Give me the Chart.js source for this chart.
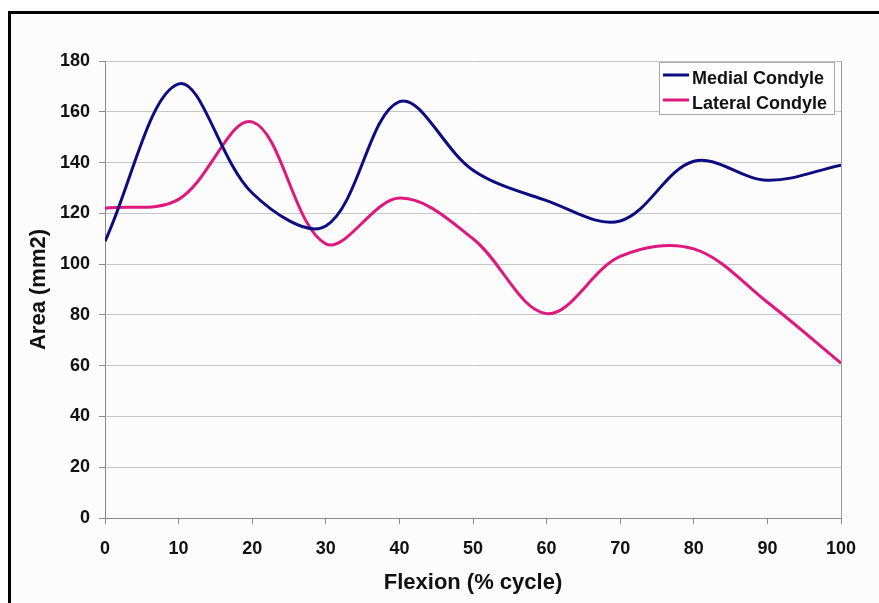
<!DOCTYPE html>
<html>
<head>
<meta charset="utf-8">
<script src="https://cdn.jsdelivr.net/npm/chart.js@4.4.1/dist/chart.umd.min.js"></script>
<style>
  html, body { margin: 0; padding: 0; background: #fff; overflow: hidden; }
  #frame {
    position: absolute; left: 8px; top: 11px; width: 900px; height: 640px;
    border: 3px solid #000; background: #fcfcfc;
  }
  #chart { position: absolute; left: 0; top: 0; }
</style>
</head>
<body>
<div id="frame"></div>
<canvas id="chart" width="879" height="603"></canvas>
<script>
// values
const flexion = [0, 10, 20, 30, 40, 50, 60, 70, 80, 90, 100];
const medialCondyle = [109, 171, 128, 115, 164, 137, 125, 117, 140.5, 133, 139];
const lateralCondyle = [122, 125.5, 156, 108, 126, 110, 80.5, 103, 106, 85, 61];
const xTickValues = [0, 10, 20, 30, 40, 50, 60, 70, 80, 90, 100];
const yTickValues = [0, 20, 40, 60, 80, 100, 120, 140, 160, 180];

const FONT = '"Liberation Sans", Arial, sans-serif';

const toPoints = (ys) => flexion.map((x, i) => ({ x: x, y: ys[i] }));

// grey border on the right of the plot area
const plotFrame = {
  id: 'plotFrame',
  beforeDatasetsDraw(chart) {
    const { ctx, chartArea } = chart;
    ctx.save();
    ctx.strokeStyle = '#9a9a9a';
    ctx.lineWidth = 1;
    ctx.beginPath();
    ctx.moveTo(chartArea.right + 0.5, chartArea.top);
    ctx.lineTo(chartArea.right + 0.5, chartArea.bottom);
    ctx.stroke();
    ctx.restore();
  }
};

// Excel style boxed legend in the top right corner of the plot
const boxLegend = {
  id: 'boxLegend',
  afterDraw(chart) {
    const { ctx, chartArea } = chart;
    const left = chartArea.right - 182;
    const top = chartArea.top + 1;
    ctx.save();
    ctx.fillStyle = '#fdfdfd';
    ctx.fillRect(left, top, 175, 52);
    ctx.strokeStyle = '#a8a8a8';
    ctx.lineWidth = 1;
    ctx.strokeRect(left + 0.5, top + 0.5, 175, 52);
    ctx.font = 'bold 18px ' + FONT;
    ctx.textBaseline = 'middle';
    ctx.textAlign = 'left';
    chart.data.datasets.forEach((ds, i) => {
      const ly = top + 13 + i * 25;
      ctx.strokeStyle = ds.borderColor;
      ctx.lineWidth = 3;
      ctx.beginPath();
      ctx.moveTo(left + 4, ly);
      ctx.lineTo(left + 30, ly);
      ctx.stroke();
      ctx.fillStyle = '#111';
      ctx.fillText(ds.label, left + 33, ly + 4);
    });
    ctx.restore();
  }
};

new Chart(document.getElementById('chart'), {
  type: 'line',
  data: {
    datasets: [
      {
        label: 'Medial Condyle',
        data: toPoints(medialCondyle),
        borderColor: '#0c0c80',
        borderWidth: 3,
        pointRadius: 0,
        tension: 0.35,
        fill: false
      },
      {
        label: 'Lateral Condyle',
        data: toPoints(lateralCondyle),
        borderColor: '#df187d',
        borderWidth: 3,
        pointRadius: 0,
        tension: 0.35,
        fill: false
      }
    ]
  },
  options: {
    responsive: false,
    animation: false,
    devicePixelRatio: 1,
    layout: { padding: { top: 61, right: 38, left: 0, bottom: 0 } },
    plugins: {
      legend: { display: false },
      tooltip: { enabled: false }
    },
    scales: {
      x: {
        type: 'linear',
        min: 0,
        max: 100,
        afterFit: (s) => { s.height = 85; },
        afterBuildTicks: (s) => { s.ticks = xTickValues.map(v => ({ value: v })); },
        grid: { drawOnChartArea: false, drawTicks: true, tickLength: 6, tickColor: '#8a8a8a' },
        border: { color: '#8a8a8a', width: 1 },
        ticks: {
          color: '#111',
          font: { family: FONT, size: 18, weight: 'bold' },
          padding: 14,
          maxRotation: 0,
          autoSkip: false
        },
        title: {
          display: true,
          text: 'Flexion (% cycle)',
          color: '#111',
          font: { family: FONT, size: 22, weight: 'bold' },
          padding: { top: 0, bottom: 7 }
        }
      },
      y: {
        min: 0,
        max: 180,
        afterFit: (s) => { s.width = 105; },
        afterBuildTicks: (s) => { s.ticks = yTickValues.map(v => ({ value: v })); },
        grid: { color: '#c6c6c6', lineWidth: 1, tickLength: 6, tickColor: '#8a8a8a' },
        border: { color: '#8a8a8a', width: 1 },
        ticks: {
          color: '#111',
          font: { family: FONT, size: 18, weight: 'bold' },
          padding: 9
        },
        title: {
          display: true,
          text: 'Area (mm2)',
          color: '#111',
          font: { family: FONT, size: 22, weight: 'bold' },
          padding: { top: 26, bottom: 0 }
        }
      }
    }
  },
  plugins: [plotFrame, boxLegend]
});
</script>
</body>
</html>
